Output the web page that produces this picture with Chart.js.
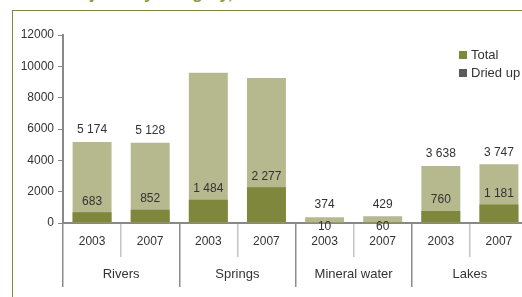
<!DOCTYPE html>
<html>
<head>
<meta charset="utf-8">
<script src="https://cdn.jsdelivr.net/npm/chart.js@4.4.1/dist/chart.umd.min.js"></script>
<style>
  html, body { margin: 0; padding: 0; width: 522px; height: 297px; overflow: hidden; background: #fff; }
  #frame { position: absolute; left: 12px; top: 10px; width: 600px; height: 400px;
           border-left: 1.5px solid #7e8a3b; border-top: 1.5px solid #7e8a3b; }
  #title { position: absolute; left: 18px; top: -16px; font: bold 17px Arial, sans-serif; color: #8a9a4a; white-space: nowrap; }
  #wrap { position: absolute; left: 0; top: 0; width: 540px; height: 297px; }
  .legend { position: absolute; left: 459px; font: 13px Arial, sans-serif; color: #333; }
  .legend span { display: inline-block; width: 8px; height: 8px; margin-right: 4px; }
</style>
</head>
<body>
<div id="title">Water objects by category, 2003 and 2007</div>
<div id="frame"></div>
<div id="wrap"><canvas id="myChart" width="540" height="297"></canvas></div>
<div class="legend" style="top:47px"><span style="background:#7e8a3b"></span>Total</div>
<div class="legend" style="top:65px"><span style="background:#5a5a5a"></span>Dried up</div>
<script>
const years = ['2003', '2007', '2003', '2007', '2003', '2007', '2003', '2007'];
const groups = ['Rivers', 'Springs', 'Mineral water', 'Lakes'];
const totals = [5174, 5128, 9590, 9250, 374, 429, 3638, 3747];
const driedUp = [683, 852, 1484, 2277, 10, 60, 760, 1181];
const showTotal = [true, true, false, false, true, true, true, true];
const yTicks = [0, 2000, 4000, 6000, 8000, 10000, 12000];

const fmt = n => String(n).replace(/\B(?=(\d{3})+(?!\d))/g, ' ');

// value labels above bars
const valueLabels = {
  id: 'valueLabels',
  afterDatasetsDraw(chart) {
    const ctx = chart.ctx;
    const base = chart.scales.y.getPixelForValue(0);
    ctx.save();
    ctx.font = '12px Arial';
    ctx.fillStyle = '#333';
    ctx.textAlign = 'center';
    ctx.textBaseline = 'middle';
    chart.getDatasetMeta(0).data.forEach((bar, i) => {
      if (showTotal[i]) ctx.fillText(fmt(totals[i]), bar.x, bar.y - 12);
    });
    chart.getDatasetMeta(1).data.forEach((bar, i) => {
      const y = base - bar.y < 4 ? base + 4 : bar.y - 11;
      ctx.fillText(fmt(driedUp[i]), bar.x, y);
    });
    ctx.restore();
  }
};

const ctx = document.getElementById('myChart').getContext('2d');
const myChart = new Chart(ctx, {
  type: 'bar',
  data: {
    labels: years,
    datasets: [{
      label: 'Total',
      data: totals,
      backgroundColor: '#b6b88e',
      order: 2,
      categoryPercentage: 1,
      barPercentage: 0.67
    }, {
      label: 'Dried up',
      data: driedUp,
      backgroundColor: '#7e873c',
      order: 1,
      categoryPercentage: 1,
      barPercentage: 0.67
    }]
  },
  options: {
    responsive: false,
    animation: false,
    layout: { padding: { left: 0, top: 35, right: 12, bottom: 10 } },
    plugins: {
      legend: { display: false },
      tooltip: { enabled: false }
    },
    scales: {
      y: {
        min: 0,
        max: 12000,
        afterBuildTicks: s => { s.ticks = yTicks.map(v => ({ value: v })); },
        ticks: { color: '#333', font: { family: 'Arial', size: 12 }, padding: 4, callback: v => String(v) },
        grid: { drawOnChartArea: false, tickLength: 5, color: '#888' },
        border: { color: '#888', width: 2 },
        afterFit: s => { s.width = 63; }
      },
      x: {
        stacked: true,
        offset: true,
        weight: 0,
        ticks: { color: '#333', font: { family: 'Arial', size: 12 }, padding: -23, maxRotation: 0, autoSkip: false },
        grid: {
          offset: true,
          drawOnChartArea: false,
          tickLength: 34,
          lineWidth: 1.5,
          color: c => (c.index % 2 === 0 ? '#8c8c8c' : '#c4c4c4')
        },
        border: { color: '#888', width: 2 },
        afterFit: s => { s.height = 34; }
      },
      x2: {
        type: 'category',
        labels: groups,
        position: 'bottom',
        offset: true,
        weight: 1,
        ticks: { color: '#333', font: { family: 'Arial', size: 13 }, padding: -20, maxRotation: 0, autoSkip: false },
        grid: { offset: true, drawOnChartArea: false, tickLength: 30, lineWidth: 1.5, color: '#8c8c8c' },
        border: { display: false },
        afterFit: s => { s.height = 30; }
      }
    }
  },
  plugins: [valueLabels]
});
</script>
</body>
</html>
